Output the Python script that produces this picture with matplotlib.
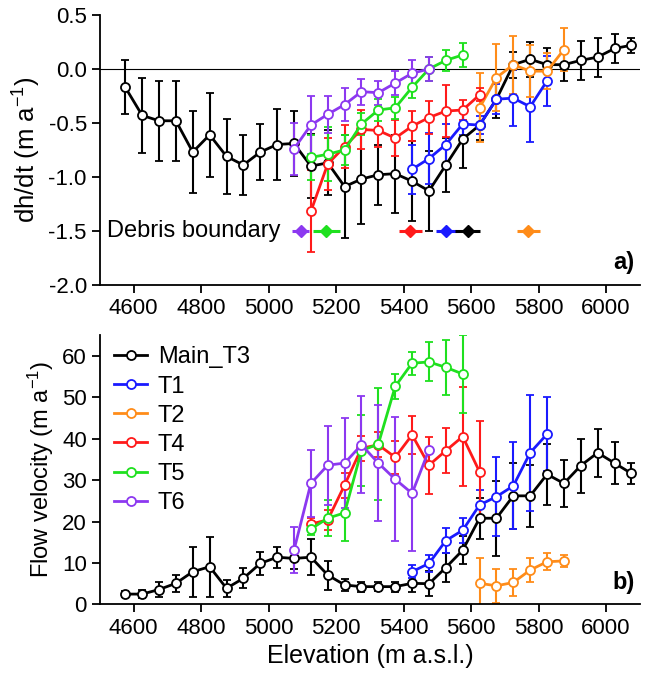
import matplotlib.pyplot as plt
from matplotlib.lines import Line2D

plt.rcParams['font.family'] = ['Liberation Sans', 'DejaVu Sans']
plt.rcParams['mathtext.fontset'] = 'custom'
plt.rcParams['mathtext.rm'] = 'Liberation Sans'
plt.rcParams['mathtext.it'] = 'Liberation Sans:italic'

# elevation bins (m a.s.l.)
elev_main = [4575, 4625, 4675, 4725, 4775, 4825, 4875, 4925, 4975, 5025, 5075,
             5125, 5175, 5225, 5275, 5325, 5375, 5425, 5475, 5525, 5575, 5625,
             5675, 5725, 5775, 5825, 5875, 5925, 5975, 6025, 6075]
elev_t1 = [5425, 5475, 5525, 5575, 5625, 5675, 5725, 5775, 5825]
elev_t2 = [5625, 5675, 5725, 5775, 5825, 5875]
elev_t4 = [5125, 5175, 5225, 5275, 5325, 5375, 5425, 5475, 5525, 5575, 5625]
elev_t5 = [5125, 5175, 5225, 5275, 5325, 5375, 5425, 5475, 5525, 5575]
elev_t6 = [5075, 5125, 5175, 5225, 5275, 5325, 5375, 5425, 5475]

# a) surface elevation change dh/dt
dh_main = [-0.17, -0.43, -0.48, -0.48, -0.77, -0.61, -0.81, -0.89, -0.77, -0.70, -0.69,
           -0.90, -0.87, -1.09, -1.02, -0.98, -0.97, -1.04, -1.13, -0.89, -0.65, -0.52,
           -0.28, 0.04, 0.09, 0.04, 0.04, 0.08, 0.11, 0.19, 0.22]
dh_main_err = [0.25, 0.35, 0.37, 0.37, 0.38, 0.39, 0.35, 0.28, 0.26, 0.33, 0.30,
               0.30, 0.30, 0.48, 0.42, 0.28, 0.36, 0.37, 0.37, 0.25, 0.27, 0.14,
               0.17, 0.12, 0.16, 0.15, 0.15, 0.18, 0.18, 0.13, 0.07]
dh_t1 = [-0.93, -0.83, -0.70, -0.51, -0.52, -0.28, -0.27, -0.35, -0.11]
dh_t1_err = [0.23, 0.24, 0.19, 0.10, 0.08, 0.14, 0.26, 0.33, 0.23]
dh_t2 = [-0.36, -0.08, 0.04, -0.02, -0.02, 0.18]
dh_t2_err = [0.32, 0.31, 0.27, 0.24, 0.17, 0.20]
dh_t4 = [-1.32, -0.88, -0.72, -0.56, -0.57, -0.64, -0.53, -0.45, -0.39, -0.38, -0.24]
dh_t4_err = [0.38, 0.24, 0.20, 0.18, 0.15, 0.17, 0.14, 0.15, 0.24, 0.09, 0.06]
dh_t5 = [-0.82, -0.79, -0.75, -0.51, -0.38, -0.36, -0.17, 0.00, 0.08, 0.13]
dh_t5_err = [0.21, 0.25, 0.14, 0.10, 0.10, 0.10, 0.10, 0.11, 0.10, 0.11]
dh_t6 = [-0.74, -0.52, -0.42, -0.33, -0.21, -0.22, -0.13, -0.04, 0.00]
dh_t6_err = [0.24, 0.27, 0.17, 0.15, 0.12, 0.11, 0.11, 0.12, 0.11]

# debris boundary elevations (T6, T5, T4, T1, Main_T3, T2)
debris_x = [5095, 5170, 5420, 5525, 5590, 5770]
debris_err = [25, 40, 33, 30, 37, 35]
debris_y = -1.5

# b) flow velocity
v_main = [2.5, 2.5, 3.6, 5.1, 7.9, 9.1, 3.9, 6.3, 9.9, 11.4, 11.1,
          11.4, 7.1, 4.7, 4.3, 4.3, 4.3, 5.1, 5.0, 8.9, 13.1, 20.8,
          20.8, 26.2, 26.2, 31.4, 29.2, 33.5, 36.6, 34.1, 31.6]
v_main_err = [0.8, 1.0, 1.9, 2.0, 6.0, 7.2, 2.0, 2.4, 2.8, 2.5, 2.5,
              4.4, 3.5, 1.5, 1.2, 1.0, 1.2, 2.0, 3.0, 3.4, 3.4, 5.0,
              9.0, 7.9, 7.5, 7.3, 5.6, 6.5, 5.8, 5.0, 2.5]
v_t1 = [7.9, 9.9, 15.4, 17.9, 24.0, 26.0, 28.6, 36.6, 41.1]
v_t1_err = [1.5, 2.0, 3.0, 3.0, 3.6, 9.6, 10.5, 14.0, 9.0]
v_t2 = [5.1, 4.5, 5.3, 8.3, 10.3, 10.5]
v_t2_err = [6.2, 4.1, 3.3, 3.0, 2.0, 1.5]
v_t4 = [19.4, 20.4, 28.8, 37.7, 38.5, 35.5, 40.9, 33.6, 37.1, 40.5, 32.0]
v_t4_err = [1.5, 2.5, 3.0, 3.0, 3.0, 4.0, 4.5, 6.9, 5.4, 12.0, 12.2]
v_t5 = [18.2, 20.8, 22.1, 37.1, 38.7, 52.6, 58.2, 58.5, 57.2, 55.6]
v_t5_err = [1.5, 4.4, 6.7, 8.5, 13.4, 3.1, 2.8, 4.7, 6.7, 9.4]
v_t6 = [13.1, 29.2, 33.6, 34.1, 38.5, 34.1, 30.2, 26.8, 37.3]
v_t6_err = [5.6, 8.0, 9.5, 10.8, 11.7, 14.0, 15.0, 14.0, 0.0]

names = ['Main_T3', 'T1', 'T2', 'T4', 'T5', 'T6']
colors = ['black', '#1a1aff', '#ff8c19', '#ff1a1a', '#1fe01f', '#8c38f0']
debris_colors = ['#8c38f0', '#1fe01f', '#ff1a1a', '#1a1aff', 'black', '#ff8c19']

elevs = [elev_main, elev_t1, elev_t2, elev_t4, elev_t5, elev_t6]
dh = [dh_main, dh_t1, dh_t2, dh_t4, dh_t5, dh_t6]
dh_err = [dh_main_err, dh_t1_err, dh_t2_err, dh_t4_err, dh_t5_err, dh_t6_err]
vel = [v_main, v_t1, v_t2, v_t4, v_t5, v_t6]
vel_err = [v_main_err, v_t1_err, v_t2_err, v_t4_err, v_t5_err, v_t6_err]

fig = plt.figure(figsize=(6.45, 6.83), dpi=100)
ax1 = fig.add_axes([0.155, 0.583, 0.837, 0.395])
ax2 = fig.add_axes([0.155, 0.115, 0.837, 0.3945])

style = dict(fmt='-o', ms=6.5, mfc='white', mew=1.3, lw=2,
             elinewidth=1.5, capsize=3, capthick=1.5)

ax1.axhline(0, color='black', lw=0.8, zorder=0)
for x, y, e, c in zip(elevs, dh, dh_err, colors):
    ax1.errorbar(x, y, yerr=e, color=c, **style)
for x, e, c in zip(debris_x, debris_err, debris_colors):
    ax1.errorbar(x, debris_y, xerr=e, fmt='D', color=c, ms=6.5, elinewidth=2.2, capsize=0)
ax1.text(5035, debris_y, 'Debris boundary', fontsize=17, ha='right', va='center')

for x, y, e, c in zip(elevs, vel, vel_err, colors):
    ax2.errorbar(x, y, yerr=e, color=c, **style)

handles = [Line2D([], [], color=c, marker='o', ms=6.5, mfc='white', mew=1.3, lw=2)
           for c in colors]
ax2.legend(handles, names, loc='upper left', bbox_to_anchor=(0.0, 1.01),
           frameon=False, fontsize=17, handlelength=1.4, handletextpad=0.45,
           labelspacing=0.3, borderaxespad=0.2)

for ax in (ax1, ax2):
    ax.set_xlim(4500, 6100)
    ax.set_xticks([4600, 4800, 5000, 5200, 5400, 5600, 5800, 6000])
    ax.spines['top'].set_visible(False)
    ax.spines['right'].set_visible(False)
    ax.spines['left'].set_linewidth(1.3)
    ax.spines['bottom'].set_linewidth(1.3)
    ax.tick_params(labelsize=16, length=6, width=1.3)

ax1.set_ylim(-2.0, 0.5)
ax1.set_yticks([-2.0, -1.5, -1.0, -0.5, 0.0, 0.5])
ax1.set_yticklabels(['-2.0', '-1.5', '-1.0', '-0.5', '0.0', '0.5'])
ax1.set_ylabel('dh/dt (m a$^{-1}$)', fontsize=18.5, labelpad=4)
ax1.text(0.99, 0.04, 'a)', transform=ax1.transAxes, fontsize=17,
         fontweight='bold', ha='right', va='bottom')

ax2.set_ylim(0, 65)
ax2.set_yticks([0, 10, 20, 30, 40, 50, 60])
ax2.set_ylabel('Flow velocity (m a$^{-1}$)', fontsize=17)
ax2.set_xlabel('Elevation (m a.s.l.)', fontsize=18)
ax2.text(0.99, 0.04, 'b)', transform=ax2.transAxes, fontsize=17,
         fontweight='bold', ha='right', va='bottom')

fig.savefig('out.png', dpi=100)
